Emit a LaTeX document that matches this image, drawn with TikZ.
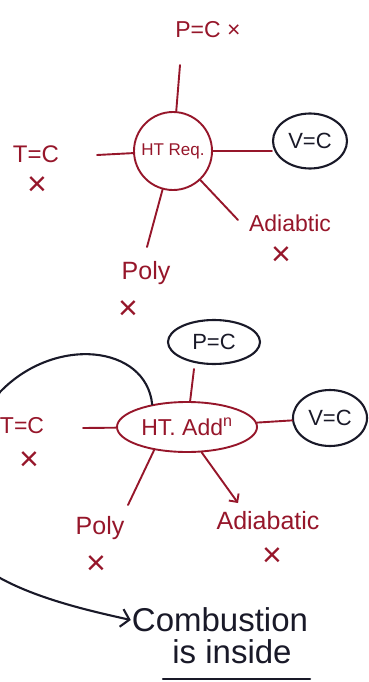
\documentclass[tikz,border=0pt]{standalone}
\usepackage{fontspec}
\setmainfont{Liberation Sans}
\usetikzlibrary{shapes.geometric,arrows.meta}
\definecolor{inkred}{RGB}{150,22,42}
\definecolor{inkblk}{RGB}{25,25,40}
\begin{document}
\begin{tikzpicture}[x=1pt,y=-1pt,
  lbl/.style={inner sep=1pt, text=inkred, font=\fontsize{23}{25}\selectfont},
  blbl/.style={inner sep=1pt, text=inkblk, font=\fontsize{22}{24}\selectfont},
  xmark/.style={inner sep=0pt, text=inkred, font=\fontsize{34}{34}\selectfont},
  redl/.style={draw=inkred, line width=1.9pt, line cap=round},
  blkl/.style={draw=inkblk, line width=2.1pt, line cap=round},
  bigtxt/.style={inner sep=1pt, text=inkblk, font=\fontsize{33}{35}\selectfont}]
\useasboundingbox (0,0) rectangle (369,682);
\clip (0,0) rectangle (369,682);

% ---------- top diagram ----------
\node[circle, redl, minimum size=78pt, inner sep=0pt, text=inkred,
      font=\fontsize{17}{18}\selectfont] (htr) at (173,151) {HT Req.};
\node[lbl] (ptop) at (208,30) {P=C ×};
\node[ellipse, blkl, minimum width=74pt, minimum height=55pt, inner sep=0pt] (vc1) at (310,141) {};
\node[blbl] (vc1t) at (vc1) {V=C};
\node[lbl, font=\fontsize{24}{26}\selectfont] (tc1) at (36,154) {T=C};
\node[xmark] (tc1x) at (37,186) {×};
\node[lbl] (ad1) at (290,223) {Adiabtic};
\node[xmark] (ad1x) at (281,256) {×};
\node[lbl, font=\fontsize{25}{27}\selectfont] (po1) at (146,273) {Poly};
\node[xmark] (po1x) at (128,310) {×};

\coordinate (pend) at (180,65);
\coordinate (tend) at (97,155);
\coordinate (aend) at (238,220);
\coordinate (poend) at (147,247);
\draw[redl] (htr) -- (pend);
\draw[redl] (htr) -- (tend);
\draw[redl] (htr) -- (aend);
\draw[redl] (htr) -- (poend);
\draw[redl] (htr.east) -- (vc1.west |- htr.east);

% ---------- bottom diagram ----------
\node[ellipse, redl, minimum width=140pt, minimum height=50pt, inner sep=0pt, text=inkred,
      font=\fontsize{23}{25}\selectfont] (hta) at (187,427) {HT. Add\textsuperscript{n}};
\node[ellipse, blkl, minimum width=92pt, minimum height=44pt, inner sep=0pt] (pc2) at (214,342) {};
\node[blbl] (pc2t) at (pc2) {P=C};
\node[ellipse, blkl, minimum width=74pt, minimum height=56pt, inner sep=0pt] (vc2) at (330,418) {};
\node[blbl] (vc2t) at (vc2) {V=C};
\node[lbl] (tc2) at (22,426) {T=C};
\node[xmark] (tc2x) at (29,461) {×};
\node[lbl, font=\fontsize{25}{27}\selectfont] (po2) at (100,528) {Poly};
\node[xmark] (po2x) at (96,565) {×};
\node[lbl, font=\fontsize{25}{27}\selectfont] (ad2) at (268,521) {Adiabatic};
\node[xmark] (ad2x) at (272,557) {×};
\node[bigtxt] (comb) at (220,620) {Combustion};
\node[bigtxt] (ins) at (232,652) {is inside};

\coordinate (pb) at (194,369);
\coordinate (tl2) at (83,428);
\coordinate (pl2) at (128,505);
\coordinate (al2) at (238,503);
\draw[redl] (hta) -- (pb);
\draw[redl] (hta) -- (tl2);
\draw[redl] (hta.-145) -- (pl2);
\draw[redl, -{Straight Barb[length=6pt,width=12pt]}] (hta.-60) -- (al2);
\draw[redl] (hta) -- (vc2);

\draw[blkl, -{Straight Barb[length=8pt,width=18pt]}]
  (hta.147) .. controls (146,345) and (55,335) .. (0,392)
  .. controls (-35,450) and (-35,550) .. (0,578)
  .. controls (40,600) and (95,612) .. (comb.west);

\coordinate (ul1) at (163,679);
\coordinate (ul2) at (310,679);
\draw[blkl, line width=2.5pt] (ul1) -- (ul2);
\end{tikzpicture}
\end{document}
